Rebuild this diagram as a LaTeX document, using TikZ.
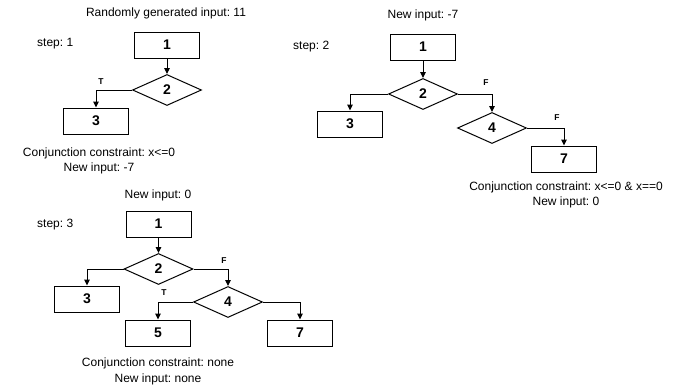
\documentclass[tikz,border=0pt]{standalone}
\usepackage{fontspec}
\setmainfont{Liberation Sans}
\usetikzlibrary{shapes.geometric,arrows.meta}
\frenchspacing
\begin{document}
\begin{tikzpicture}[x=1pt,y=-1pt,
  box/.style={draw,line width=1pt,rectangle,minimum width=65pt,minimum height=26pt,inner sep=0pt,font=\bfseries\fontsize{14}{16}\selectfont},
  dia/.style={draw,line width=1pt,diamond,minimum width=69pt,minimum height=31pt,inner sep=0pt,font=\bfseries\fontsize{14}{16}\selectfont},
  txt/.style={font=\fontsize{12}{14}\selectfont,inner sep=0pt},
  lbl/.style={font=\bfseries\fontsize{8.5}{10}\selectfont,inner sep=0pt},
  arr/.style={line width=1pt,-{Triangle[length=6pt,width=5.5pt]}}]
\useasboundingbox (0,0) rectangle (691,386);
% step 1
\node[txt] (t1) at (166,13) {Randomly generated input: 11};
\node[txt,anchor=west] (s1) at (37,44) {step: 1};
\node[box] (a1) at (167,45) {1};
\node[dia] (a2) at (167,90) {2};
\node[box] (a3) at (96,121) {3};
\node[lbl] (aT) at (101,82) {T};
\draw[arr] (a1) -- (a2);
\draw[arr] (a2.west) -| (a3.north);
\node[txt] (c1) at (99,153) {Conjunction constraint: x<=0};
\node[txt] (n1) at (99,168) {New input: -7};
% step 2
\node[txt] (t2) at (423,15) {New input: -7};
\node[txt,anchor=west] (s2) at (293,47) {step: 2};
\node[box] (b1) at (423,47) {1};
\node[dia] (b2) at (423,94) {2};
\node[box] (b3) at (350,124) {3};
\node[dia] (b4) at (492,128) {4};
\node[box] (b7) at (564,159) {7};
\node[lbl] (bF1) at (486,83) {F};
\node[lbl] (bF2) at (557,118) {F};
\draw[arr] (b1) -- (b2);
\draw[arr] (b2.west) -| (b3.north);
\draw[arr] (b2.east) -| (b4.north);
\draw[arr] (b4.east) -| (b7.north);
\node[txt] (c2) at (566,187) {Conjunction constraint: x<=0 \& x==0};
\node[txt] (n2) at (566,202) {New input: 0};
% step 3
\node[txt] (t3) at (158,195) {New input: 0};
\node[txt,anchor=west] (s3) at (37,225) {step: 3};
\node[box] (d1) at (158.5,224) {1};
\node[dia] (d2) at (158.5,269) {2};
\node[box] (d3) at (87,299) {3};
\node[dia] (d4) at (228,302) {4};
\node[box] (d5) at (158,333) {5};
\node[box] (d7) at (300,333) {7};
\node[lbl] (dF) at (224,261) {F};
\node[lbl] (dT) at (164,293) {T};
\draw[arr] (d1) -- (d2);
\draw[arr] (d2.west) -| (d3.north);
\draw[arr] (d2.east) -| (d4.north);
\draw[arr] (d4.west) -| (d5.north);
\draw[arr] (d4.east) -| (d7.north);
\node[txt] (c3) at (158,363) {Conjunction constraint: none};
\node[txt] (n3) at (158,379) {New input: none};
\end{tikzpicture}
\end{document}
